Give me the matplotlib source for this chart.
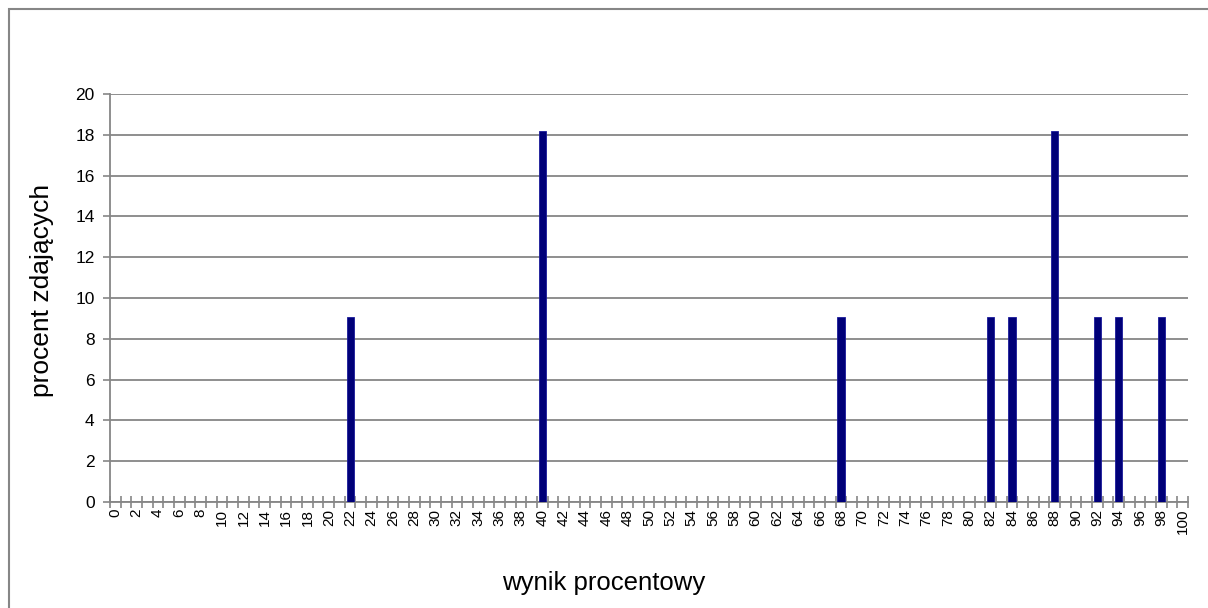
import numpy as np
import matplotlib.pyplot as plt
from matplotlib.patches import Rectangle

plt.rcParams['font.family'] = ['Liberation Sans', 'DejaVu Sans']

# Data: percentage score (0..100) and percent of test takers
scores = list(range(0, 101))
hit_scores = [22, 40, 68, 82, 84, 88, 92, 94, 98]
hit_values = [9.09, 18.18, 9.09, 9.09, 9.09, 18.18, 9.09, 9.09, 9.09]
values = [hit_values[hit_scores.index(s)] if s in hit_scores else 0 for s in scores]

grey = '#868686'
bar_color = '#000078'

fig = plt.figure(figsize=(12.08, 6.08), dpi=100)
fig.patches.append(Rectangle((9 / 1208, -0.2), 1.2, 1.2 - 9 / 608, transform=fig.transFigure,
                             fill=False, edgecolor=grey, linewidth=1.5))
ax = fig.add_axes([110 / 1208, 1 - 502 / 608, 1078 / 1208, 408 / 608])

ax.bar(scores, values, width=0.68, color=bar_color, edgecolor='#1a1a9a', linewidth=0.6, zorder=3)

ax.set_xlim(-0.5, 100.5)
ax.set_ylim(0, 20)
ax.set_yticks(range(0, 21, 2))
ax.yaxis.grid(True, color=grey, linewidth=1.3, zorder=0)
ax.set_xticks(range(0, 101, 2))
ax.set_xticklabels([str(s) for s in range(0, 101, 2)], rotation=90, fontsize=11)
ax.set_xticks(np.arange(-0.5, 101, 1), minor=True)
ax.tick_params(axis='x', which='major', length=0, pad=5)
ax.tick_params(axis='x', which='minor', direction='inout', length=8, color=grey, width=1.2)
ax.tick_params(axis='y', length=5, color=grey, width=1.2, labelsize=12.5, pad=6)

for side in ['top', 'right']:
    ax.spines[side].set_visible(False)
for side in ['left', 'bottom']:
    ax.spines[side].set_color(grey)
    ax.spines[side].set_linewidth(1.3)

ax.set_xlabel('wynik procentowy', fontsize=18.5, va='center')
ax.set_ylabel('procent zdających', fontsize=19, va='center')
ax.xaxis.set_label_coords((604 - 110) / 1078, (502 - 583) / 408)
ax.yaxis.set_label_coords((42 - 110) / 1078, (502 - 290) / 408)

fig.savefig('out.png', dpi=100)
